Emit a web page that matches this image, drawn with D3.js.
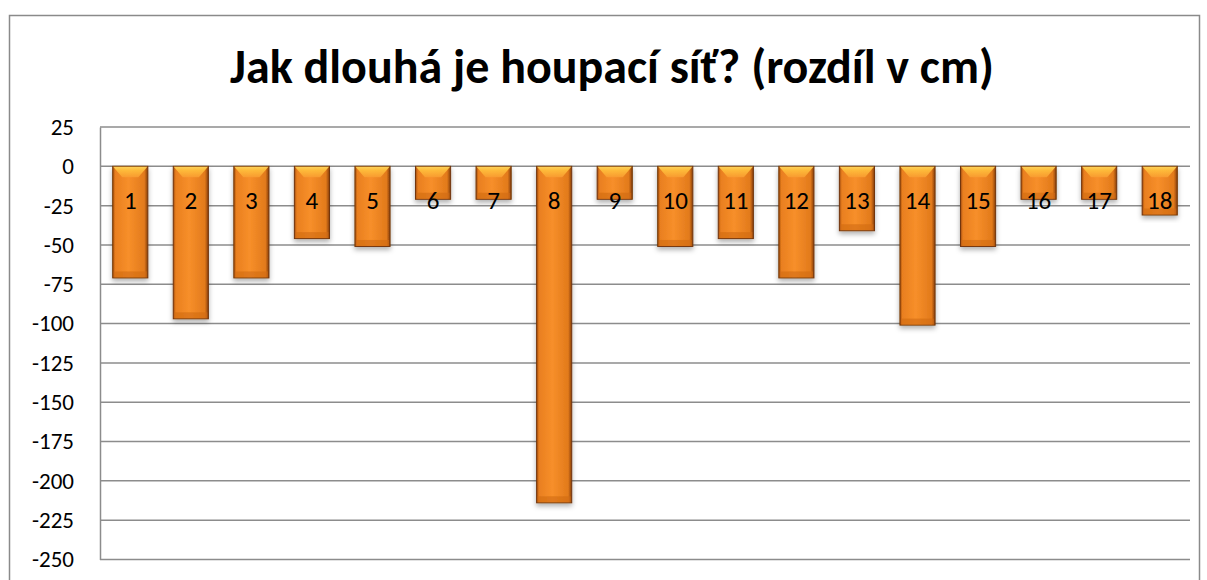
<!DOCTYPE html>
<html>
<head>
<meta charset="utf-8">
<script src="https://cdn.jsdelivr.net/npm/d3@7"></script>
<style>
  body { margin: 0; background: #fff; }
  svg { display: block; font-family: Carlito, Calibri, Lato, sans-serif; }
</style>
</head>
<body>
<script>
// data
const categories = ["1","2","3","4","5","6","7","8","9","10","11","12","13","14","15","16","17","18"]
const values = [-70, -96, -70, -45, -50, -20, -20, -213, -20, -50, -45, -70, -40, -100, -50, -20, -20, -30]
const tickValues = [25, 0, -25, -50, -75, -100, -125, -150, -175, -200, -225, -250]
const title = "Jak dlouhá je houpací síť? (rozdíl v cm)"

const W = 1207, H = 580
const svg = d3.select("body").append("svg")
    .attr("width", W)
    .attr("height", H)

const defs = svg.append("defs")

// horizontal shading of the bars
const hg = defs.append("linearGradient").attr("id", "barH")
    .attr("x1", 0).attr("x2", 1).attr("y1", 0).attr("y2", 0)
hg.append("stop").attr("offset", "0%").attr("stop-color", "#a24c0c")
hg.append("stop").attr("offset", "7%").attr("stop-color", "#e97f1f")
hg.append("stop").attr("offset", "45%").attr("stop-color", "#f78f2a")
hg.append("stop").attr("offset", "90%").attr("stop-color", "#e27a1b")
hg.append("stop").attr("offset", "100%").attr("stop-color", "#873f0a")

const tg = defs.append("linearGradient").attr("id", "barTop")
    .attr("x1", 0).attr("x2", 0).attr("y1", 0).attr("y2", 1)
tg.append("stop").attr("offset", "0%").attr("stop-color", "#ffda5e")
tg.append("stop").attr("offset", "35%").attr("stop-color", "#ffbf3c")
tg.append("stop").attr("offset", "100%").attr("stop-color", "#f99c30")

const sh = defs.append("filter").attr("id", "shadow")
    .attr("x", "-20%").attr("y", "-5%").attr("width", "140%").attr("height", "120%")
sh.append("feDropShadow").attr("dx", 0).attr("dy", 3)
    .attr("stdDeviation", 2.5).attr("flood-color", "#000").attr("flood-opacity", 0.3)

// chart border
svg.append("rect")
    .attr("x", 9.5).attr("y", 15.5)
    .attr("width", 1190).attr("height", 620)
    .attr("fill", "none")
    .attr("stroke", "#8a8a8a")
    .attr("stroke-width", 1.5)

svg.append("text")
    .attr("x", 612)
    .attr("y", 83)
    .attr("text-anchor", "middle")
    .attr("font-size", 48)
    .attr("font-weight", "bold")
    .attr("fill", "#000")
    .text(title)

const x = d3.scaleBand()
    .domain(categories)
    .range([100, 1190])
    .paddingInner(0.42)
    .paddingOuter(0.21)

const y = d3.scaleLinear()
    .domain([-250, 25])
    .range([559.5, 127])

// gridlines
svg.append("g")
    .selectAll("line")
    .data(tickValues)
    .enter()
    .append("line")
    .attr("x1", 100)
    .attr("x2", 1190)
    .attr("y1", d => y(d))
    .attr("y2", d => y(d))
    .attr("stroke", "#8c8c8c")
    .attr("stroke-width", 1.5)

// y axis
const yAxis = svg.append("g")
    .attr("transform", "translate(100,0)")
    .call(d3.axisLeft(y).tickValues(tickValues).tickSize(0).tickPadding(26).tickFormat(d => String(d)))
yAxis.select(".domain").attr("stroke", "#8c8c8c").attr("stroke-width", 1.5)
yAxis.selectAll("text")
    .attr("font-size", 23)
    .attr("font-family", "Carlito, Calibri, Lato, sans-serif")
    .attr("fill", "#000")

// bars
const bars = svg.append("g")
    .selectAll("g")
    .data(values)
    .enter()
    .append("g")
    .attr("filter", "url(#shadow)")

bars.append("rect")
    .attr("x", (d, i) => x(categories[i]))
    .attr("y", y(0))
    .attr("width", x.bandwidth())
    .attr("height", d => y(d) - y(0) + 1.5)
    .attr("fill", "url(#barH)")
    .attr("stroke", "#733608")
    .attr("stroke-width", 1)

// top bevel
bars.append("path")
    .attr("d", (d, i) => {
        const x0 = x(categories[i]) + 0.5, x1 = x0 + x.bandwidth() - 1
        const t = y(0) + 0.5, b = Math.min(y(0) + 11, y(d) - 3)
        return `M${x0},${t}L${x1},${t}L${x1 - 9},${b}L${x0 + 9},${b}Z`
    })
    .attr("fill", "url(#barTop)")
    .attr("opacity", 0.9)

// bottom bevel
bars.append("rect")
    .attr("x", (d, i) => x(categories[i]) + 1)
    .attr("y", d => y(d) - 5)
    .attr("width", x.bandwidth() - 2)
    .attr("height", 6)
    .attr("fill", "#d06a12")
    .attr("opacity", 0.6)

// labels
svg.append("g")
    .selectAll("text")
    .data(values)
    .enter()
    .append("text")
    .attr("x", (d, i) => x(categories[i]) + x.bandwidth() / 2)
    .attr("y", y(0) + 43)
    .attr("text-anchor", "middle")
    .attr("font-size", 25)
    .attr("fill", "#000")
    .text((d, i) => categories[i])
</script>
</body>
</html>
